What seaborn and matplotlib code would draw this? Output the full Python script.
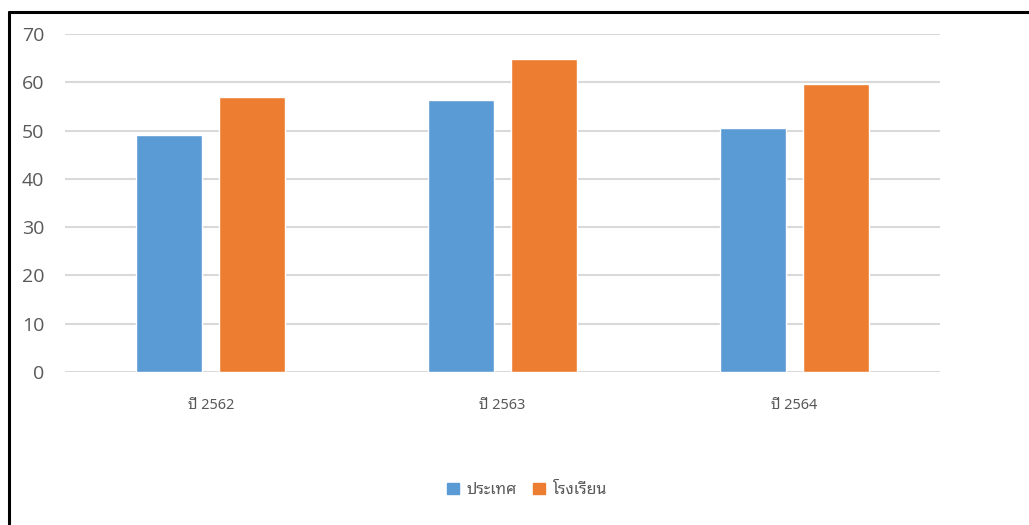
import matplotlib
matplotlib.use("Agg")
import matplotlib.pyplot as plt
from matplotlib.lines import Line2D
import seaborn as sns
import pandas as pd

years = ["ปี 2562", "ปี 2563", "ปี 2564"]
series_names = ["ประเทศ", "โรงเรียน"]
country = [49.1, 56.3, 50.5]
school = [56.9, 64.9, 59.6]
colors = ["#5B9BD5", "#ED7D31"]

sns.set_theme(style="white")
thai_family = ["Noto Sans Thai Looped", "DejaVu Sans"]
plt.rcParams["font.family"] = thai_family

df = pd.DataFrame({
    "year": years * 2,
    "series": [series_names[0]] * 3 + [series_names[1]] * 3,
    "value": country + school,
})

fig = plt.figure(figsize=(10.29, 5.25), dpi=100)
ax = fig.add_axes([65 / 1029, 1 - 372 / 525, 875 / 1029, 338 / 525])
sns.barplot(data=df, x="year", y="value", hue="series", palette=colors,
            width=0.57, gap=0.204, ax=ax, legend=False, saturation=1)
ax.set_ylim(0, 70)
ax.set_xlim(-0.5, 2.5)
ax.set_yticks(range(0, 71, 10))
ax.yaxis.grid(True, color="#D9D9D9", linewidth=1.5)
ax.set_axisbelow(True)
for s in ax.spines.values():
    s.set_visible(False)
ax.set_xlabel("")
ax.set_ylabel("")
ax.tick_params(axis="y", length=0, pad=15, labelsize=14, labelcolor="#595959")
ax.tick_params(axis="x", length=0, pad=18.5, labelsize=10.5, labelcolor="#595959")
for lab in ax.get_yticklabels():
    lab.set_family(["Open Sans", "DejaVu Sans"])
for lab in ax.get_xticklabels():
    lab.set_family(thai_family)
    lab.set_fontweight("light")

handles = [plt.Rectangle((0, 0), 1, 1, color=c) for c in colors]
leg = fig.legend(handles, series_names, loc="center", bbox_to_anchor=(527 / 1029, 1 - 490 / 525),
                 ncol=2, frameon=False, fontsize=11.5, labelcolor="#595959",
                 handlelength=0.75, handleheight=0.75, handletextpad=0.5, columnspacing=1.0)
for t in leg.get_texts():
    t.set_fontweight("light")

fig.add_artist(Line2D([8.5 / 1029, 1], [1 - 12 / 525, 1 - 12 / 525], color="black", linewidth=2.2, transform=fig.transFigure))
fig.add_artist(Line2D([9 / 1029, 9 / 1029], [0, 1 - 12 / 525], color="black", linewidth=2.2, transform=fig.transFigure))

fig.savefig("out.png", dpi=100, facecolor="white")
